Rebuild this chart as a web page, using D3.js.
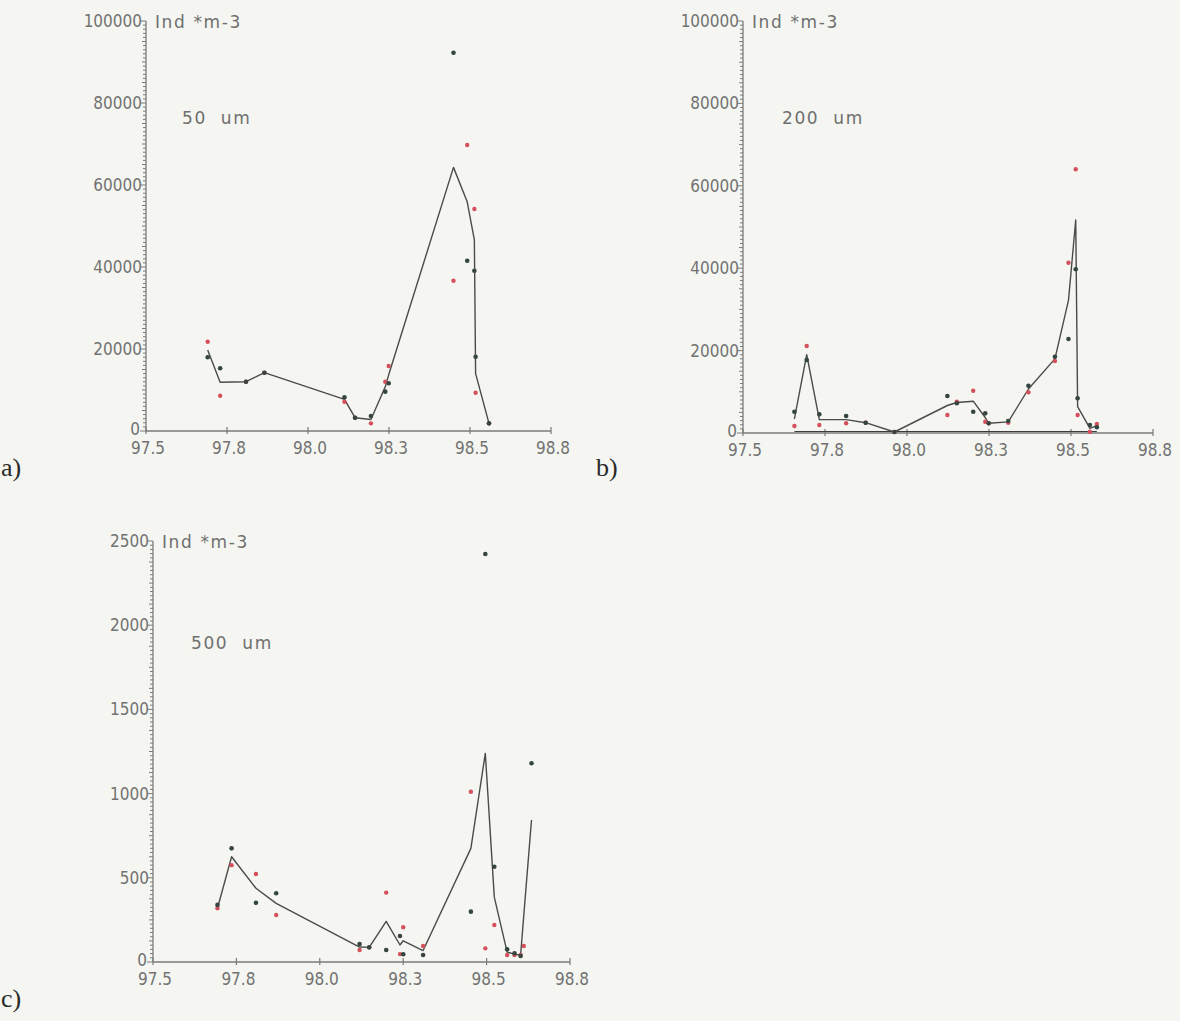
<!DOCTYPE html>
<html>
<head>
<meta charset="utf-8">
<script src="https://cdn.jsdelivr.net/npm/d3@7"></script>
<style>
  html, body { margin: 0; padding: 0; background: #f5f6f1; }
  svg { display: block; }
  .tick-label { font-family: "DejaVu Sans Condensed", "DejaVu Sans", sans-serif; font-stretch: condensed; font-size: 17px; fill: #727272; }
  .note-label { font-family: "DejaVu Sans", sans-serif; font-size: 17px; fill: #6f6f6f; letter-spacing: 1.6px; }
  .panel-tag { font-family: "Liberation Serif", "DejaVu Serif", serif; font-size: 26px; fill: #2a2a2a; }
</style>
</head>
<body>
<svg id="chart" width="1180" height="1021"></svg>
<script>
// Shared x axis: position along the transect
const xDomain = [97.5, 98.8];
const xTicks = [97.5, 97.76, 98.02, 98.28, 98.54, 98.8];
const xTickLabels = ["97.5", "97.8", "98.0", "98.3", "98.5", "98.8"];
const unitLabel = "Ind *m-3";

// 50 um mesh: stations, two replicate hauls, station mean
const stations50 = [97.698, 97.738, 97.821, 97.880, 98.137, 98.171, 98.222, 98.268, 98.279, 98.487, 98.531, 98.554, 98.558, 98.601];
const repA50 = [17976, 15293, 12024, 14220, 8220, 3244, 3659, 9594, 11634, 92270, 41537, 39098, 18122, 1870];
const repB50 = [21780, 8610, 12024, 14220, 7146, 3244, 1870, 12024, 15854, 36658, 69755, 54146, 9341, 1870];
const mean50 = [19756, 11900, 12024, 14220, 7700, 3244, 2800, 10800, 13700, 64300, 55900, 46600, 14000, 1870];

// 200 um mesh
const stations200 = [97.663, 97.702, 97.742, 97.827, 97.889, 97.980, 98.148, 98.178, 98.230, 98.268, 98.279, 98.341, 98.405, 98.489, 98.532, 98.555, 98.561, 98.600, 98.622];
const repA200 = [5170, 17717, 4530, 4126, 2500, 243, 8980, 7208, 5170, 4773, 2354, 2912, 11480, 18518, 22814, 39730, 8422, 1942, 1383];
const repB200 = [1699, 21115, 1942, 2354, 2500, 243, 4369, 7597, 10266, 2742, 2354, 2500, 9877, 17474, 41331, 63999, 4369, 316, 2184];
const mean200 = [3434, 19000, 3236, 3240, 2500, 243, 6675, 7400, 7718, 3757, 2354, 2706, 10678, 17996, 32200, 51700, 6396, 1129, 1784];

// 500 um mesh
const stations500 = [97.701, 97.745, 97.821, 97.884, 98.144, 98.174, 98.227, 98.270, 98.280, 98.342, 98.491, 98.536, 98.564, 98.604, 98.627, 98.646, 98.656, 98.680];
const repA500 = [339, 675, 352, 408, 107, 87, 71, 154, 46, 42, 299, 2423, 566, 75, 52, 36, null, 1180];
const repB500 = [319, 575, 523, 279, 71, 87, 412, 47, 206, 95, 1011, 81, 220, 42, 42, 42, 95, null];
const mean500 = [319, 625, 438, 348, 89, 87, 241, 101, 126, 68, 675, 1239, 385, 59, 47, 40, 279, 843];

const meshLabels = ["50  um", "200  um", "500  um"];
const panelTags = ["a)", "b)", "c)"];

const colA = "#34463f";
const colB = "#d4505c";
const lineCol = "#4b4b4b";
const axisCol = "#7a7a7a";

const panels = [
  { tag: panelTags[0], mesh: meshLabels[0], x: stations50, a: repA50, b: repB50, m: mean50,
    yMax: 100000, yStep: 20000, left: 146, right: 551, top: 21, bottom: 431,
    tagPos: [1, 476], meshPos: [182, 124], zeroLine: false },
  { tag: panelTags[1], mesh: meshLabels[1], x: stations200, a: repA200, b: repB200, m: mean200,
    yMax: 100000, yStep: 20000, left: 743, right: 1153, top: 21, bottom: 433,
    tagPos: [596, 476], meshPos: [782, 124], zeroLine: true },
  { tag: panelTags[2], mesh: meshLabels[2], x: stations500, a: repA500, b: repB500, m: mean500,
    yMax: 2500, yStep: 500, left: 153, right: 570, top: 541, bottom: 962,
    tagPos: [1, 1007], meshPos: [191, 649], zeroLine: false }
];

const svg = d3.select("#chart");

panels.forEach(p => {
  const x = d3.scaleLinear().domain(xDomain).range([p.left, p.right]);
  const y = d3.scaleLinear().domain([0, p.yMax]).range([p.bottom, p.top]);
  const g = svg.append("g");

  // y axis: spine, minor ticks, labelled major ticks
  const minorStep = p.yStep / 20;
  const minor = d3.range(0, p.yMax + minorStep / 2, minorStep);
  g.append("line").attr("x1", x(xDomain[0])).attr("x2", x(xDomain[0]))
    .attr("y1", y(0)).attr("y2", y(p.yMax)).attr("stroke", axisCol).attr("stroke-width", 1.3);
  g.selectAll(".ym").data(minor).join("line")
    .attr("x1", x(xDomain[0]))
    .attr("x2", (d, i) => x(xDomain[0]) - (i % 20 === 0 ? 6 : (i % 5 === 0 ? 4 : 3)))
    .attr("y1", d => y(d)).attr("y2", d => y(d))
    .attr("stroke", axisCol).attr("stroke-width", 1);
  const majors = d3.range(0, p.yMax + 1, p.yStep);
  g.selectAll(".yl").data(majors).join("text")
    .attr("class", "tick-label")
    .attr("x", d => x(xDomain[0]) - (d === 0 ? 6 : 4))
    .attr("y", d => y(d) - (d === 0 ? 2 : 0))
    .attr("text-anchor", "end").attr("dominant-baseline", "central")
    .text(d => d3.format("d")(d));

  // x axis
  g.append("line").attr("x1", x(xDomain[0])).attr("x2", x(xDomain[1]))
    .attr("y1", y(0)).attr("y2", y(0)).attr("stroke", axisCol).attr("stroke-width", 1.3);
  g.selectAll(".xt").data(xTicks).join("line")
    .attr("x1", d => x(d)).attr("x2", d => x(d))
    .attr("y1", y(0) - 4).attr("y2", y(0) + 3)
    .attr("stroke", axisCol).attr("stroke-width", 1.2);
  g.selectAll(".xl").data(xTicks).join("text")
    .attr("class", "tick-label")
    .attr("x", d => x(d) + 2).attr("y", y(0) + 23)
    .attr("text-anchor", "middle")
    .text((d, i) => xTickLabels[i]);

  // unit and mesh annotations
  g.append("text").attr("class", "note-label")
    .attr("x", x(xDomain[0]) + 9).attr("y", y(p.yMax) + 1)
    .attr("dominant-baseline", "central")
    .style("white-space", "pre").text(unitLabel);
  g.append("text").attr("class", "note-label")
    .attr("x", p.meshPos[0]).attr("y", p.meshPos[1])
    .style("white-space", "pre").text(p.mesh);

  // panel tag
  svg.append("text").attr("class", "panel-tag")
    .attr("x", p.tagPos[0]).attr("y", p.tagPos[1]).text(p.tag);

  const rows = p.x.map((xv, i) => ({ x: xv, a: p.a[i], b: p.b[i], m: p.m[i] }));

  if (p.zeroLine) {
    g.append("line")
      .attr("x1", x(d3.min(p.x))).attr("x2", x(d3.max(p.x)))
      .attr("y1", y(0) - 1.5).attr("y2", y(0) - 1.5)
      .attr("stroke", "#3c3c3c").attr("stroke-width", 1.2);
  }

  // station mean line
  g.append("path").datum(rows.filter(r => r.m != null))
    .attr("fill", "none").attr("stroke", lineCol).attr("stroke-width", 1.4)
    .attr("stroke-linejoin", "round")
    .attr("d", d3.line().x(r => x(r.x)).y(r => y(r.m)));

  // replicate hauls
  g.selectAll(".pb").data(rows.filter(r => r.b != null)).join("circle")
    .attr("cx", r => x(r.x)).attr("cy", r => y(r.b)).attr("r", 2.2).attr("fill", colB);
  g.selectAll(".pa").data(rows.filter(r => r.a != null)).join("circle")
    .attr("cx", r => x(r.x)).attr("cy", r => y(r.a)).attr("r", 2.3).attr("fill", colA);
});
</script>
</body>
</html>
